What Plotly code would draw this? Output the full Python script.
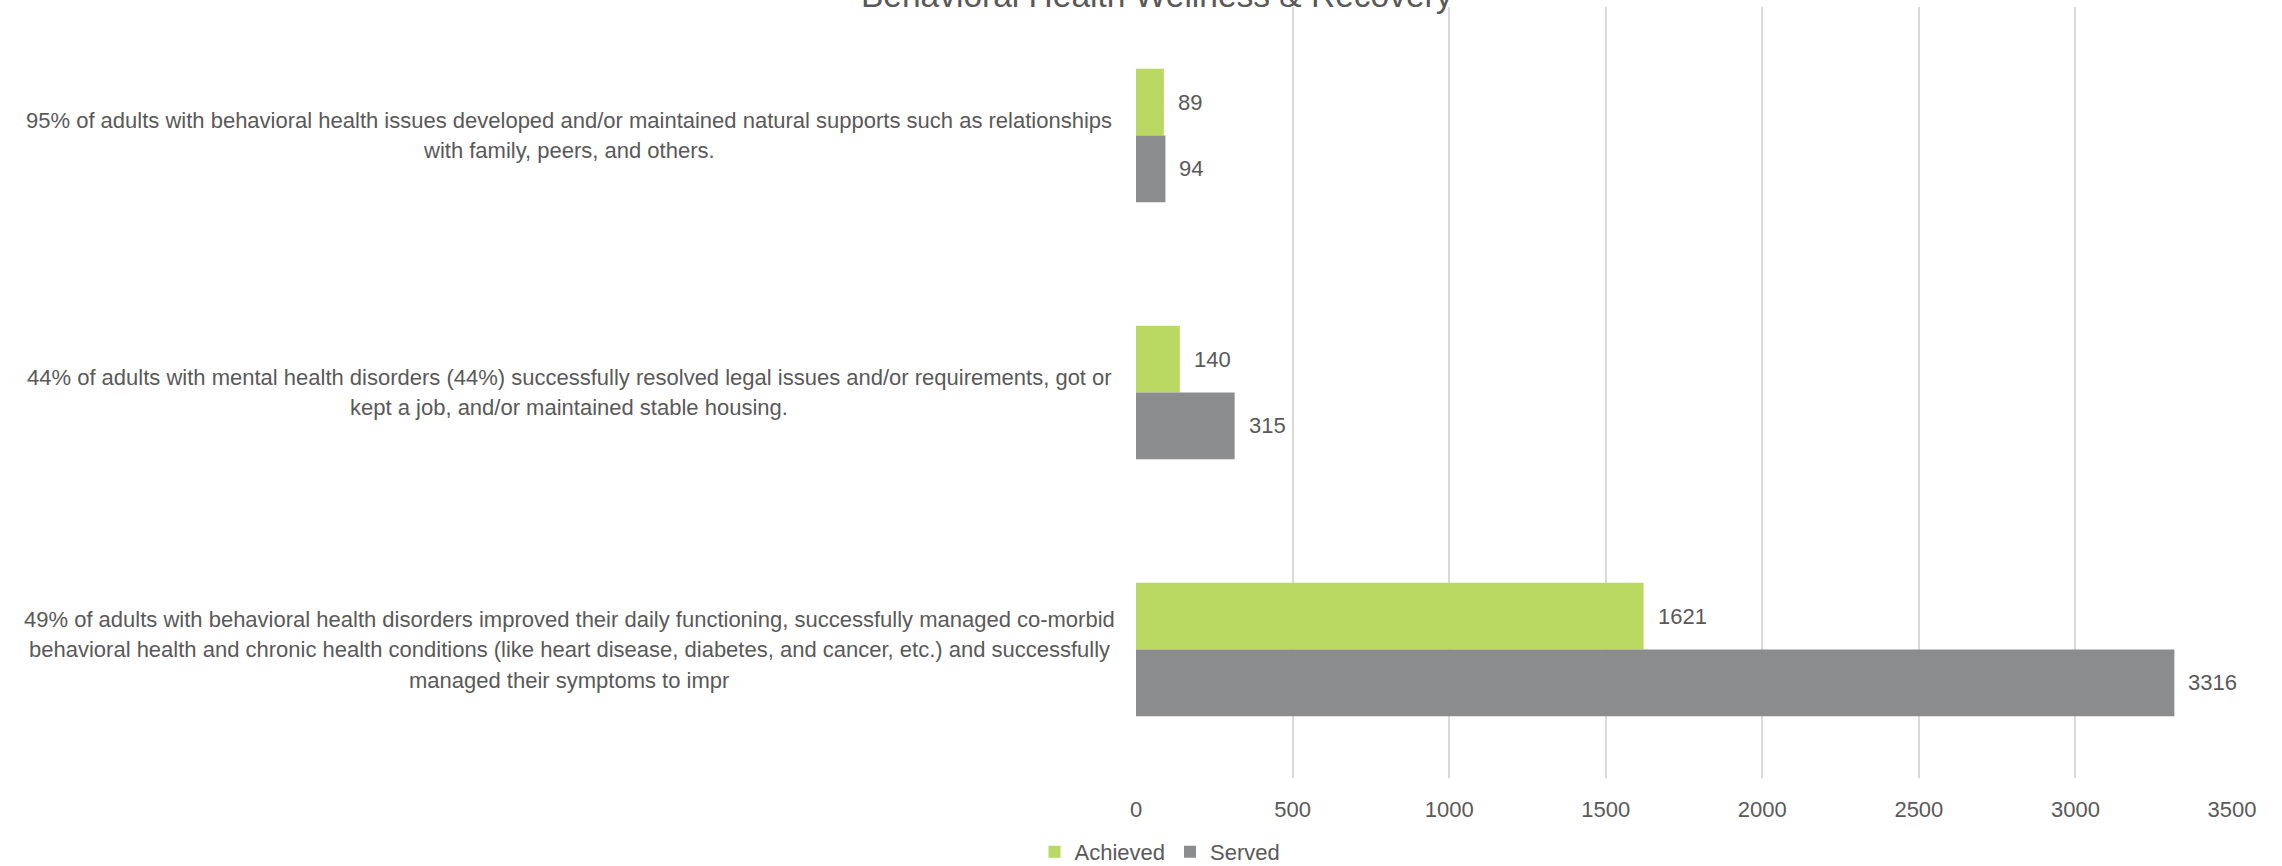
import plotly.graph_objects as go

# Outcome measures (top to bottom)
categories = [
    "95% of adults with behavioral health issues developed and/or maintained natural supports such as relationships<br>with family, peers, and others.",
    "44% of adults with mental health disorders (44%) successfully resolved legal issues and/or requirements, got or<br>kept a job, and/or maintained stable housing.",
    "49% of adults with behavioral health disorders improved their daily functioning, successfully managed co-morbid<br>behavioral health and chronic health conditions (like heart disease, diabetes, and cancer, etc.) and successfully<br>managed their symptoms to impr",
]
achieved = [89, 140, 1621]
served = [94, 315, 3316]
x_ticks = [0, 500, 1000, 1500, 2000, 2500, 3000, 3500]

FONT = "Liberation Sans, Arial, sans-serif"
TEXT = "#595959"
GREEN = "#B9D962"
GRAY = "#8B8C8E"

W, H = 2282, 866
L, R, T, B = 1136, 50, 7, 88
plot_h = H - T - B
band = plot_h / len(categories)
BARGAP = 0.48
bar_w = band * (1 - BARGAP) / 2
LINE_H = 30.5

fig = go.Figure()
fig.add_trace(go.Bar(name="Achieved", y=categories, x=achieved, orientation="h",
                     marker=dict(color=GREEN, line=dict(width=0))))
fig.add_trace(go.Bar(name="Served", y=categories, x=served, orientation="h",
                     marker=dict(color=GRAY, line=dict(width=0))))

annotations = []
# value labels just past the end of each bar
for vals, shift in ((achieved, bar_w / 2), (served, -bar_w / 2)):
    for cat, v in zip(categories, vals):
        annotations.append(dict(x=v, y=cat, xref="x", yref="y", text=str(v),
                                showarrow=False, xanchor="left", xshift=12,
                                yshift=shift, font=dict(family=FONT, size=22, color=TEXT)))

# category labels: centred lines in a block to the left of the plot
LABEL_RIGHT = -21
LABEL_W = 1092
for cat in categories:
    lines = cat.split("<br>")
    n = len(lines)
    for i, line in enumerate(lines):
        annotations.append(dict(x=0, y=cat, xref="paper", yref="y", text=line,
                                showarrow=False, xanchor="center", yanchor="middle",
                                xshift=LABEL_RIGHT - LABEL_W / 2,
                                yshift=((n - 1) / 2 - i) * LINE_H,
                                font=dict(family=FONT, size=22, color=TEXT)))

# chart title
annotations.append(dict(x=(1157 - L) / (W - L - R), y=1 - 9 / plot_h, xref="paper", yref="paper",
                        text="Behavioral Health Wellness & Recovery", showarrow=False,
                        xanchor="center", yanchor="bottom",
                        font=dict(family=FONT, size=33.5, color=TEXT)))

fig.update_layout(
    width=W, height=H,
    margin=dict(l=L, r=R, t=T, b=B, pad=0, autoexpand=False),
    paper_bgcolor="white", plot_bgcolor="white",
    barmode="group", bargap=BARGAP, bargroupgap=0,
    font=dict(family=FONT, size=22, color=TEXT),
    showlegend=True,
    legend=dict(orientation="h", x=(1160 - L) / (W - L - R), xanchor="center",
                y=-(852 - (H - B)) / plot_h, yanchor="middle",
                font=dict(family=FONT, size=22, color=TEXT),
                itemwidth=30, traceorder="normal"),
    annotations=annotations,
)
fig.update_xaxes(range=[0, 3500], tickvals=x_ticks, showgrid=True, gridcolor="#D9D9D9",
                 gridwidth=2, zeroline=False, showline=False, ticks="",
                 tickfont=dict(family=FONT, size=22, color=TEXT), ticklabelstandoff=16)
fig.update_yaxes(autorange="reversed", showticklabels=False, showgrid=False,
                 zeroline=False, showline=False, ticks="")

fig.write_html("out.html")
